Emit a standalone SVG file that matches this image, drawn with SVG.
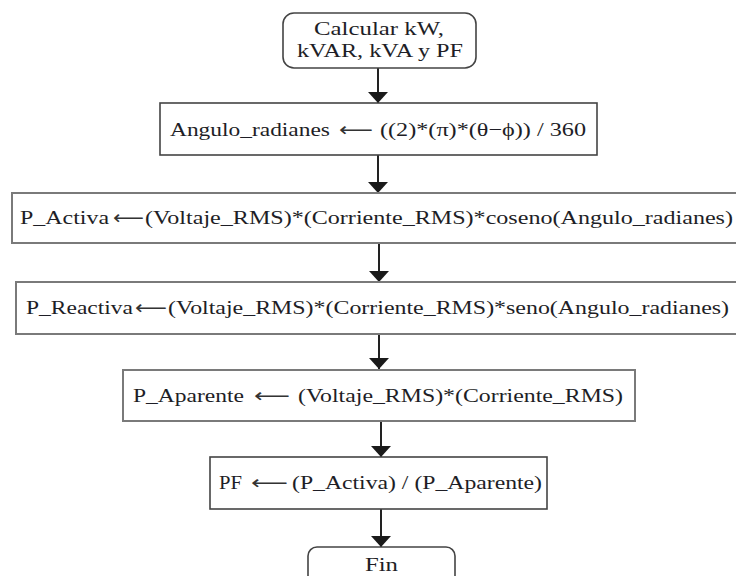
<svg xmlns="http://www.w3.org/2000/svg" width="736" height="576" viewBox="0 0 736 576">
<defs>
<style>
.t{font-family:"Liberation Serif","Times New Roman",serif;font-size:19px;fill:#1e1e26}
.ar{font-family:"DejaVu Sans",sans-serif;font-size:19px;fill:#333}
.box{fill:#fff;stroke:#444;stroke-width:1.6}
.gbox{fill:#fff;stroke:#7a7a7a;stroke-width:2}
.conn{stroke:#222;stroke-width:2;fill:none;marker-end:url(#ah)}
</style>
<marker id="ah" viewBox="0 -10 11 20" markerWidth="11" markerHeight="20" refX="11" refY="0" orient="auto" markerUnits="userSpaceOnUse">
<path d="M0,-10 L11,0 L0,10 z" fill="#1a1a1a"/>
</marker>
</defs>
<rect width="736" height="576" fill="#fff"/>
<g id="connectors">
<line class="conn" x1="378" y1="68" x2="378" y2="103"/>
<line class="conn" x1="378" y1="155" x2="378" y2="193"/>
<line class="conn" x1="379" y1="243" x2="379" y2="282"/>
<line class="conn" x1="379" y1="334" x2="379" y2="369"/>
<line class="conn" x1="381" y1="421" x2="381" y2="457"/>
<line class="conn" x1="381" y1="509" x2="381" y2="547"/>
</g>
<g id="start">
<rect class="box" x="283" y="13" width="193" height="55" rx="11" stroke="#555"/>
<text class="t" x="314" y="35" textLength="130" lengthAdjust="spacingAndGlyphs">Calcular  kW,</text>
<text class="t" x="297" y="57" textLength="166" lengthAdjust="spacingAndGlyphs">kVAR, kVA y PF</text>
</g>
<g id="angulo">
<rect class="box" x="160" y="103" width="437" height="52" stroke="#333"/>
<text class="t" x="170" y="136" textLength="160" lengthAdjust="spacingAndGlyphs">Angulo_radianes</text>
<text class="ar" x="339" y="136" textLength="34" lengthAdjust="spacingAndGlyphs">⟵</text>
<text class="t" x="380" y="136" textLength="206" lengthAdjust="spacingAndGlyphs">((2)*(π)*(θ−ϕ)) / 360</text>
</g>
<g id="p_activa">
<rect class="gbox" x="12" y="193" width="740" height="50"/>
<text class="t" x="20" y="224" textLength="89" lengthAdjust="spacingAndGlyphs">P_Activa</text>
<text class="ar" x="113" y="224" textLength="31" lengthAdjust="spacingAndGlyphs">⟵</text>
<text class="t" x="145" y="224" textLength="588" lengthAdjust="spacingAndGlyphs">(Voltaje_RMS)*(Corriente_RMS)*coseno(Angulo_radianes)</text>
</g>
<g id="p_reactiva">
<rect class="gbox" x="16" y="282" width="736" height="52" stroke="#6a6a6a"/>
<text class="t" x="26" y="314" textLength="107" lengthAdjust="spacingAndGlyphs">P_Reactiva</text>
<text class="ar" x="135" y="314" textLength="32" lengthAdjust="spacingAndGlyphs">⟵</text>
<text class="t" x="168" y="314" textLength="561" lengthAdjust="spacingAndGlyphs">(Voltaje_RMS)*(Corriente_RMS)*seno(Angulo_radianes)</text>
</g>
<g id="p_aparente">
<rect class="gbox" x="123" y="370" width="512" height="51"/>
<text class="t" x="133" y="402" textLength="111" lengthAdjust="spacingAndGlyphs">P_Aparente</text>
<text class="ar" x="254" y="402" textLength="36" lengthAdjust="spacingAndGlyphs">⟵</text>
<text class="t" x="298" y="402" textLength="325" lengthAdjust="spacingAndGlyphs">(Voltaje_RMS)*(Corriente_RMS)</text>
</g>
<g id="pf">
<rect class="box" x="210" y="457" width="337" height="52" stroke="#222"/>
<text class="t" x="219" y="489" textLength="23" lengthAdjust="spacingAndGlyphs">PF</text>
<text class="ar" x="251" y="489" textLength="37" lengthAdjust="spacingAndGlyphs">⟵</text>
<text class="t" x="292" y="489" textLength="250" lengthAdjust="spacingAndGlyphs">(P_Activa) / (P_Aparente)</text>
</g>
<g id="fin">
<rect class="box" x="308" y="547" width="147" height="44" rx="9" stroke="#555"/>
<text class="t" x="365" y="571" textLength="33" lengthAdjust="spacingAndGlyphs">Fin</text>
</g>
</svg>
